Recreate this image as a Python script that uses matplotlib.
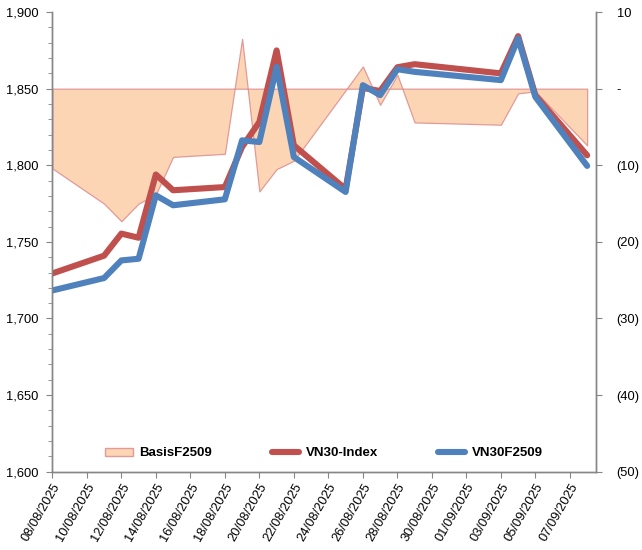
import numpy as np
import pandas as pd
import matplotlib
matplotlib.use('Agg')
import matplotlib.pyplot as plt
import matplotlib.dates as mdates
from matplotlib.ticker import FuncFormatter, MultipleLocator
from matplotlib.patches import Patch
from matplotlib.lines import Line2D

plt.rcParams['font.family'] = ['Liberation Sans', 'DejaVu Sans']

# ---------------------------------------
# DATA
# ---------------------------------------
dates = pd.to_datetime([
    '2025-08-08', '2025-08-11', '2025-08-12', '2025-08-13', '2025-08-14',
    '2025-08-15', '2025-08-18', '2025-08-19', '2025-08-20', '2025-08-21',
    '2025-08-22', '2025-08-25', '2025-08-26', '2025-08-27', '2025-08-28',
    '2025-08-29', '2025-09-03', '2025-09-04', '2025-09-05', '2025-09-08',
])

vn30_index = [1729.4, 1741.0, 1755.4, 1752.7, 1794.0, 1783.7, 1785.8, 1812.0,
              1828.3, 1875.0, 1813.0, 1784.5, 1850.5, 1848.5, 1864.0, 1866.0,
              1860.0, 1884.3, 1845.7, 1806.5]

vn30f2509 = [1718.3, 1726.4, 1737.9, 1739.0, 1780.4, 1773.9, 1777.8, 1816.3,
             1815.2, 1864.3, 1805.4, 1782.6, 1852.3, 1845.8, 1862.7, 1861.0,
             1855.6, 1882.8, 1844.6, 1799.6]

basis = [-10.4, -15.0, -17.3, -15.0, -13.8, -8.9, -8.5, 6.5, -13.4, -10.5,
         -9.4, -0.2, 2.9, -2.1, 1.8, -4.4, -4.7, -0.6, -0.35, -7.4]

tick_dates = pd.date_range('2025-08-08', '2025-09-07', freq='2D')

RED = '#C0504D'
BLUE = '#4F81BD'
FILL = '#FCD5B5'
EDGE = '#E29A98'
AXIS = '#868686'


def right_fmt(v, pos):
    if abs(v) < 1e-9:
        return '-'
    if v < 0:
        return '(%d)' % abs(v)
    return '%d' % v


def main():
    fig = plt.figure(figsize=(6.42, 5.5), dpi=100)
    ax = fig.add_axes([0.0815, 0.1424, 0.8465, 0.8356])
    ax2 = ax.twinx()

    # area behind, lines on top
    ax2.set_zorder(0)
    ax.set_zorder(1)
    ax.patch.set_visible(False)

    ax2.fill_between(dates, 0, basis, facecolor=FILL, edgecolor=EDGE,
                     linewidth=0.9)

    ax.plot(dates, vn30_index, color=RED, linewidth=4.4,
            solid_joinstyle='round', solid_capstyle='round')
    ax.plot(dates, vn30f2509, color=BLUE, linewidth=4.4,
            solid_joinstyle='round', solid_capstyle='round')

    # axes ranges
    x0 = pd.Timestamp('2025-08-08')
    ax.set_xlim(x0, x0 + pd.Timedelta(days=31.5))
    ax.set_ylim(1600, 1900)
    ax2.set_ylim(-50, 10)

    ax.yaxis.set_major_locator(MultipleLocator(50))
    ax.yaxis.set_minor_locator(MultipleLocator(10))
    ax.yaxis.set_major_formatter(FuncFormatter(lambda v, p: '{:,.0f}'.format(v)))
    ax2.yaxis.set_major_locator(MultipleLocator(10))
    ax2.yaxis.set_major_formatter(FuncFormatter(right_fmt))

    ax.set_xticks(tick_dates)
    ax.xaxis.set_major_formatter(mdates.DateFormatter('%d/%m/%Y'))
    for lbl in ax.get_xticklabels():
        lbl.set_rotation(60)
        lbl.set_ha('right')
        lbl.set_rotation_mode('anchor')

    for a in (ax, ax2):
        a.spines['top'].set_visible(False)
        for s in ('left', 'right', 'bottom'):
            a.spines[s].set_color(AXIS)
            a.spines[s].set_linewidth(1.0)
        a.tick_params(which='both', color=AXIS, labelsize=9.3,
                      labelcolor='black', direction='out')
        a.tick_params(which='major', length=4)
        a.tick_params(which='minor', length=3)
    ax.tick_params(axis='x', pad=3)
    ax.tick_params(axis='y', pad=6)
    ax2.tick_params(axis='y', pad=11)

    # legend
    handles = [
        Patch(facecolor=FILL, edgecolor=EDGE, linewidth=1.0),
        Line2D([], [], color=RED, linewidth=4.4, solid_capstyle='round'),
        Line2D([], [], color=BLUE, linewidth=4.4, solid_capstyle='round'),
    ]
    labels = ['BasisF2509', 'VN30-Index', 'VN30F2509']
    ax.legend(handles, labels, loc='center', bbox_to_anchor=(0.5, 0.04),
              ncol=3, frameon=False, handlelength=2.1, handleheight=0.55,
              handletextpad=0.5, columnspacing=4.5,
              prop={'weight': 'bold', 'size': 9.5})

    plt.savefig('out.png', dpi=100)


if __name__ == "__main__":
    main()
